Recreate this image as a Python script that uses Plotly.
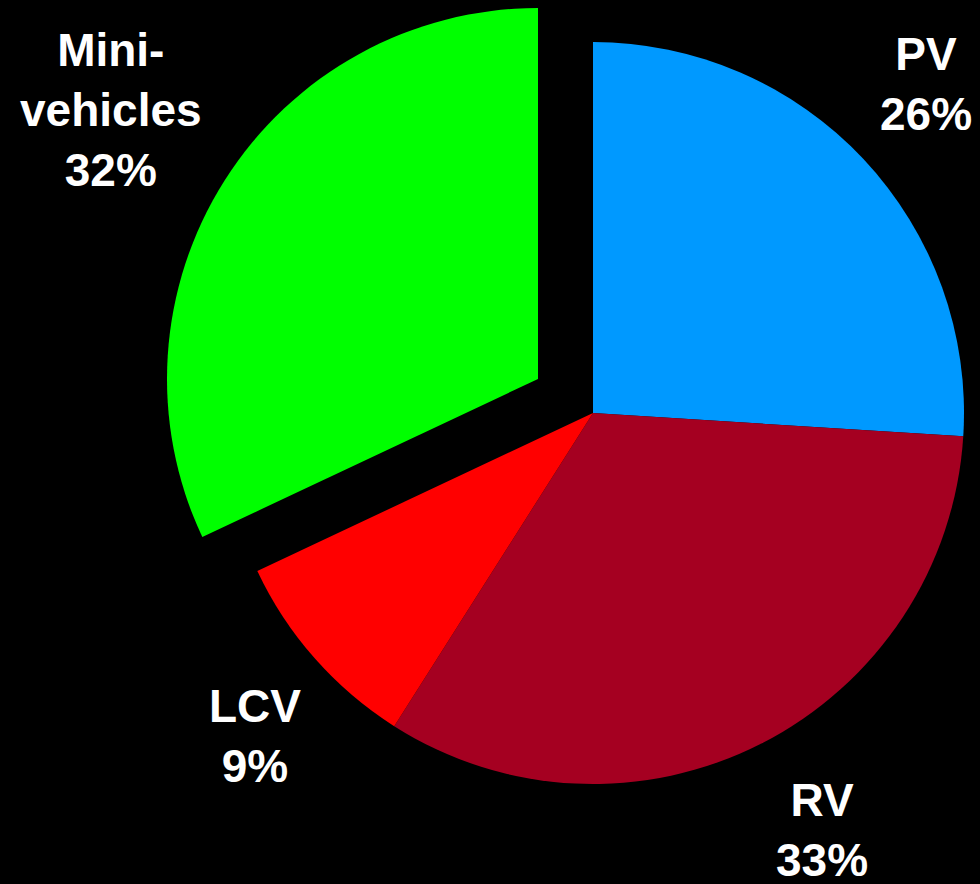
import plotly.graph_objects as go

# Vehicle segment shares (%)
segments = ["PV", "RV", "LCV", "Mini-vehicles"]
shares = [26, 33, 9, 32]
label_text = ["PV", "RV", "LCV", "Mini-<br>vehicles"]

colors = ["#0099FF", "#A50021", "#FF0000", "#00FF00"]
CLEAR = "rgba(0,0,0,0)"

W, H = 980, 884
R = 371  # pie radius in px


def box(cx, cy, r):
    """Square pie domain (paper coords) centred on pixel (cx, cy)."""
    return dict(x=[(cx - r) / W, (cx + r) / W],
                y=[1 - (cy + r) / H, 1 - (cy - r) / H])


# Main pie (Mini-vehicles hidden) and an offset copy showing only the exploded slice
exploded = "Mini-vehicles"
main_colors = [CLEAR if s == exploded else c for s, c in zip(segments, colors)]
pulled_colors = [c if s == exploded else CLEAR for s, c in zip(segments, colors)]

common = dict(labels=segments, values=shares, sort=False, direction="clockwise",
              rotation=0, textinfo="none", hoverinfo="skip", showlegend=False)

fig = go.Figure()
fig.add_trace(go.Pie(**common, domain=box(593, 413, R),
                     marker=dict(colors=main_colors, line=dict(width=0))))
fig.add_trace(go.Pie(**common, domain=box(538, 379, R),
                     marker=dict(colors=pulled_colors, line=dict(width=0))))

# Category labels with share, placed around the pie (pixel positions)
label_pos = {"PV": (926, 84), "RV": (822, 830), "LCV": (255, 736), "Mini-vehicles": (111, 110)}
for seg, txt, v in zip(segments, label_text, shares):
    px, py = label_pos[seg]
    fig.add_annotation(x=px / W, y=1 - py / H, xref="paper", yref="paper",
                       text=f"{txt}<br>{v}%", showarrow=False,
                       xanchor="center", yanchor="middle", align="center",
                       font=dict(family="Liberation Sans, Arial, sans-serif",
                                 size=46, color="white", weight="bold"))

fig.update_layout(width=W, height=H, margin=dict(l=0, r=0, t=0, b=0),
                  paper_bgcolor="black", plot_bgcolor="black")

fig.write_html("out.html")
